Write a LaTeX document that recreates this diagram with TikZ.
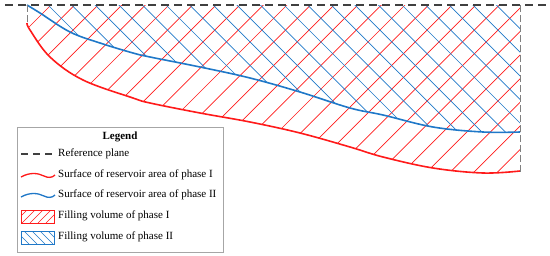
\documentclass[tikz,border=0pt]{standalone}
\usepackage{fontspec}
\setmainfont{Liberation Serif}
\definecolor{rred}{HTML}{FF1A1A}
\definecolor{rblue}{HTML}{1F78C8}
\definecolor{dashgray}{HTML}{404040}
\begin{document}
\begin{tikzpicture}[x=1pt,y=-1pt,
  refline/.style={draw=dashgray,line width=1.3pt,dash pattern=on 8pt off 5pt},
  sideline/.style={draw=gray,line width=1pt,dash pattern=on 7pt off 3pt},
  redcurve/.style={draw=rred,line width=1.6pt},
  bluecurve/.style={draw=rblue,line width=1.6pt},
  redhatch/.style={draw=rred,line width=0.7pt},
  bluehatch/.style={draw=rblue,line width=0.7pt},
  legtext/.style={anchor=west,inner sep=0pt,font=\fontsize{11}{13}\selectfont},
  legbox/.style={draw=gray!70,line width=0.8pt}]
\useasboundingbox (0,0) rectangle (550,255);
% red region hatching
\begin{scope}
\clip (27,5) -- (520,5) -- (520,171) -- plot[smooth,tension=0.6] coordinates {(520,171) (483,173) (433,168) (383,157) (350,147) (300,133) (250,122) (200,113) (150,103) (133,98) (83,80) (50,57) (30,30) (27,23)} -- cycle;
\foreach \c in {-22,...,8}{
  \pgfmathsetmacro{\cc}{528+23.6*\c}
  \draw[redhatch] (\cc-200,200) -- (\cc,0);
}
\end{scope}
% blue region hatching
\begin{scope}
\clip (27,5) -- (520,5) -- (520,132) -- plot[smooth,tension=0.6] coordinates {(520,132) (483,132) (433,127) (383,115) (350,108) (300,92) (250,78) (200,67) (150,57) (133,53) (100,43) (70,32) (40,13) (27,5)} -- cycle;
\foreach \c in {-10,...,25}{
  \pgfmathsetmacro{\cc}{43+23.6*\c}
  \draw[bluehatch] (\cc,0) -- (\cc+200,200);
}
\end{scope}
% curves
\draw[redcurve] plot[smooth,tension=0.6] coordinates {(27,23) (30,30) (50,57) (83,80) (133,98) (150,103) (200,113) (250,122) (300,133) (350,147) (383,157) (433,168) (483,173) (520,171)};
\draw[bluecurve] plot[smooth,tension=0.6] coordinates {(27,5) (40,13) (70,32) (100,43) (133,53) (150,57) (200,67) (250,78) (300,92) (350,108) (383,115) (433,127) (483,132) (520,132)};
% side lines
\coordinate (lt) at (27,5);
\coordinate (lb) at (27,23);
\coordinate (rt) at (520,5);
\coordinate (rb) at (520,172);
\draw[sideline] (lt) -- (lb);
\draw[sideline] (rt) -- (rb);
% reference plane
\coordinate (r0) at (5,5);
\coordinate (r1) at (548,5);
\draw[refline] (r0) -- (r1);
% legend
\draw[legbox,fill=white] (17,127) rectangle (223,252);
\node[font=\fontsize{11}{13}\selectfont\bfseries,inner sep=0pt] (lt0) at (120,137) {Legend};
\node[legtext] (l1) at (58,154) {Reference plane};
\node[legtext] (l2) at (58,175) {Surface of reservoir area of phase I};
\node[legtext] (l3) at (58,195) {Surface of reservoir area of phase II};
\node[legtext] (l4) at (58,216) {Filling volume of phase I};
\node[legtext] (l5) at (58,237) {Filling volume of phase II};
\draw[refline,line width=1.2pt,dash pattern=on 7pt off 5pt] (21,154) -- (56,154);
\draw[redcurve,line width=1.3pt] (21,177) .. controls (30,172) and (38,173) .. (44,176) .. controls (48,178) and (52,178) .. (55,175);
\draw[bluecurve,line width=1.3pt] (21,197) .. controls (30,192) and (38,193) .. (44,196) .. controls (48,198) and (52,198) .. (55,195);
\begin{scope}
\clip (21,210) rectangle (54,223);
\foreach \c in {0,...,8}{\draw[redhatch] (14+8*\c,223) -- (27+8*\c,210);}
\end{scope}
\draw[draw=rred,line width=0.8pt] (21,210) rectangle (54,223);
\begin{scope}
\clip (21,231) rectangle (54,244);
\foreach \c in {0,...,8}{\draw[bluehatch] (8+8*\c,231) -- (21+8*\c,244);}
\end{scope}
\draw[draw=rblue,line width=0.8pt] (21,231) rectangle (54,244);
\end{tikzpicture}
\end{document}
